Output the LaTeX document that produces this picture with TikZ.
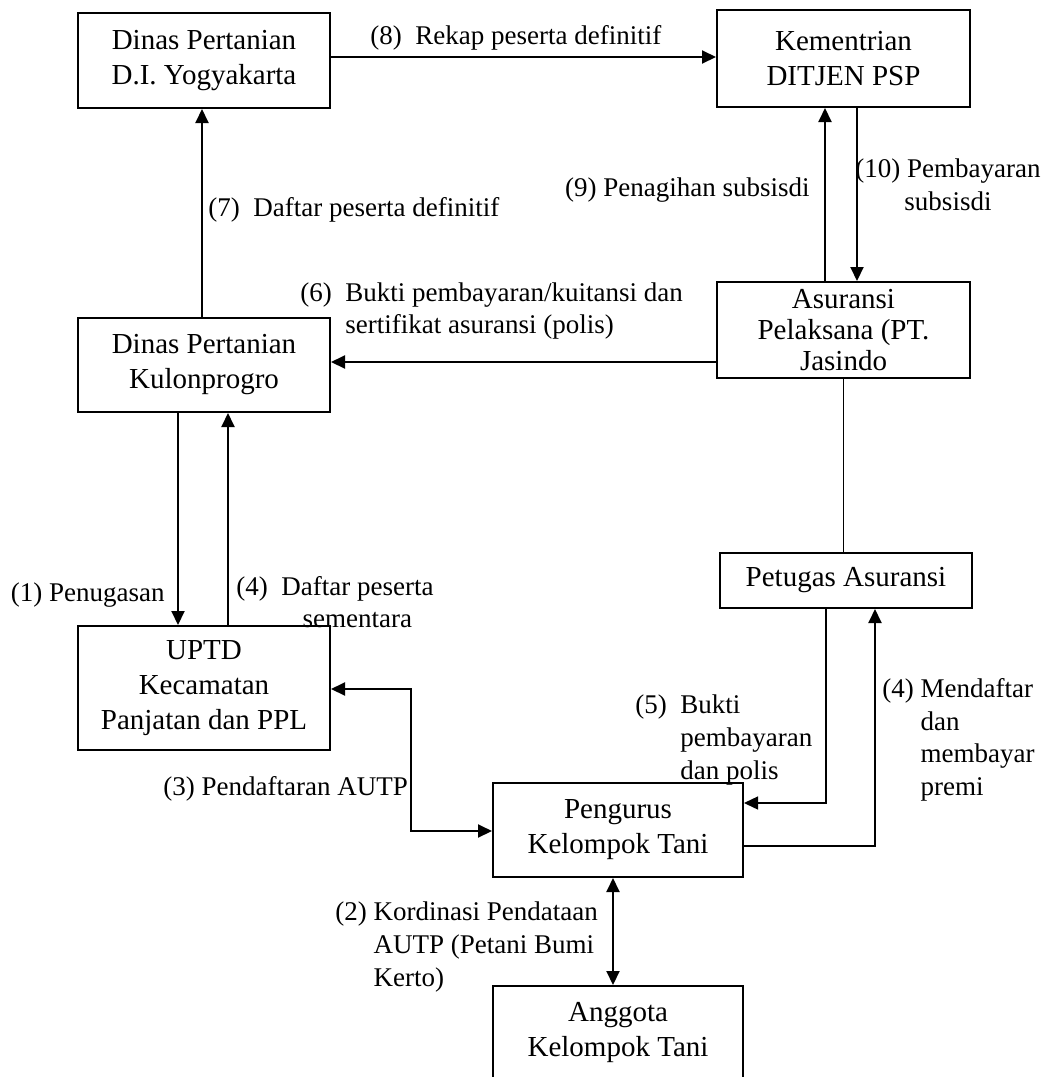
\documentclass[tikz,border=0pt]{standalone}
\usepackage{fontspec}
\setmainfont{Liberation Serif}
\usetikzlibrary{arrows.meta}
\begin{document}
\begin{tikzpicture}[x=0.5pt,y=-0.5pt,
  every node/.style={font=\fontsize{13.5}{16.3}\selectfont},
  bx/.style={draw,line width=1pt,align=center,inner sep=0pt,font=\fontsize{14.5}{17.5}\selectfont},
  lbl/.style={inner sep=0pt},
  ar/.style={line width=1pt,-{Triangle[length=7pt,width=6.5pt]}},
  arb/.style={line width=1pt,{Triangle[length=7pt,width=6.5pt]}-{Triangle[length=7pt,width=6.5pt]}},
  thinln/.style={line width=0.6pt}]
\clip (0,0) rectangle (1060,1077);
\fill[white] (0,0) rectangle (1060,1077);
% boxes
\node[bx,minimum width=126pt,minimum height=47.5pt] (B1) at (204,60.5) {Dinas Pertanian\\D.I. Yogyakarta};
\node[bx,minimum width=126.5pt,minimum height=48.5pt] (B2) at (843.5,58.5) {Kementrian\\DITJEN PSP};
\node[bx,minimum width=126.5pt,minimum height=48pt,font=\fontsize{14.5}{15.5}\selectfont] (B3) at (843.5,330) {Asuransi\\Pelaksana (PT.\\Jasindo};
\node[bx,minimum width=126pt,minimum height=47pt] (B4) at (204,365) {Dinas Pertanian\\Kulonprogro};
\node[bx,minimum width=126pt,minimum height=27.5pt] (B5) at (846,580.5) {Petugas Asuransi};
\node[bx,minimum width=126pt,minimum height=62pt] (B6) at (204,688) {UPTD\\Kecamatan\\Panjatan dan PPL};
\node[bx,minimum width=125pt,minimum height=47pt] (B7) at (618,830) {Pengurus\\Kelompok Tani};
\node[bx,minimum width=125pt,minimum height=47pt] (B8) at (618,1033) {Anggota\\Kelompok Tani};
% connectors
\draw[ar] (B1.east |- 0,57) -- (B2.west |- 0,57);
\draw[ar] (B4.north -| 202,0) -- (B1.south -| 202,0);
\draw[ar] (B3.north -| 825,0) -- (B2.south -| 825,0);
\draw[ar] (B2.south -| 857,0) -- (B3.north -| 857,0);
\draw[ar] (B3.west |- 0,362) -- (B4.east |- 0,362);
\draw[thinln] (B3.south) -- (B3.south |- B5.north);
\draw[ar] (B4.south -| 178,0) -- (B6.north -| 178,0);
\draw[ar] (B6.north -| 228,0) -- (B4.south -| 228,0);
\draw[arb] (B6.east |- 0,689) -- (411,689) -- (411,831) -- (B7.west |- 0,831);
\draw[ar,line width=0.7pt] (B5.south -| 826,0) |- (B7.east |- 0,803);
\draw[ar] (B7.east |- 0,846) -| (B5.south -| 875,0);
\draw[arb] (B7.south -| 613,0) -- (B8.north -| 613,0);
% labels
\node[lbl,anchor=west] (L8) at (370,38) {(8)\ \ Rekap peserta definitif};
\node[lbl,anchor=west] (L7) at (208,210) {(7)\ \ Daftar peserta definitif};
\node[lbl,anchor=east] (L9) at (810,190) {(9) Penagihan subsisdi};
\node[lbl,align=center] (L10) at (948,185) {(10) Pembayaran\\subsisdi};
\node[lbl,anchor=west] (L6) at (300,311) {\begin{tabular}{@{}l@{\ \ }l@{}}(6) & Bukti pembayaran/kuitansi dan\\ & sertifikat asuransi (polis)\end{tabular}};
\node[lbl,anchor=east] (L1) at (165,595) {(1) Penugasan};
\node[lbl,anchor=west] (L4) at (236,605) {\begin{tabular}{@{}l@{\ \ }c@{}}(4) & Daftar peserta\\ & sementara\end{tabular}};
\node[lbl,anchor=west] (L3) at (163,789) {(3) Pendaftaran AUTP};
\node[lbl,anchor=west] (L5) at (635,740) {\begin{tabular}{@{}l@{\ \ }l@{}}(5) & Bukti\\ & pembayaran\\ & dan polis\end{tabular}};
\node[lbl,anchor=west] (L4b) at (882,740) {\begin{tabular}{@{}l@{\ }l@{}}(4) & Mendaftar\\ & dan\\ & membayar\\ & premi\end{tabular}};
\node[lbl,anchor=west] (L2) at (335,947) {\begin{tabular}{@{}l@{\ }l@{}}(2) & Kordinasi Pendataan\\ & AUTP (Petani Bumi\\ & Kerto)\end{tabular}};
\end{tikzpicture}
\end{document}
